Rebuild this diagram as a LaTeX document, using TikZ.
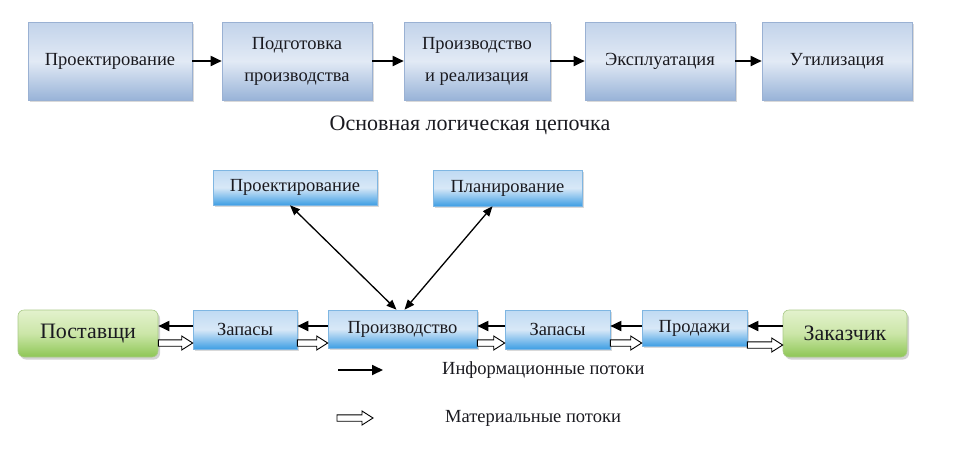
\documentclass[tikz,border=0pt]{standalone}
\usepackage{fontspec}
\setmainfont{Liberation Serif}
\usetikzlibrary{arrows.meta,shadows,calc}
\definecolor{txt}{HTML}{1A1A20}
\definecolor{topA}{HTML}{C2D3EA}
\definecolor{topB}{HTML}{E2EAF5}
\definecolor{topC}{HTML}{98B3D8}
\definecolor{topedge}{HTML}{9AB1D3}
\definecolor{bluA}{HTML}{BFDAF3}
\definecolor{bluB}{HTML}{D8E8F7}
\definecolor{bluC}{HTML}{3F9FE4}
\definecolor{bluedge}{HTML}{7FB6E2}
\definecolor{grnA}{HTML}{E3F2CD}
\definecolor{grnB}{HTML}{CBE6A8}
\definecolor{grnC}{HTML}{8EC655}
\definecolor{grnedge}{HTML}{A9CA88}
\begin{document}
\begin{tikzpicture}[x=1pt,y=-1pt,
  base/.style={inner sep=0pt, align=center, text=txt, font=\fontsize{18.5}{32}\selectfont},
  topbox/.style={base, draw=topedge, line width=0.6pt, top color=topA, bottom color=topC, middle color=topB,
    minimum height=78pt, drop shadow={shadow xshift=2pt, shadow yshift=-2pt, opacity=0.3, fill=gray}},
  blubox/.style={base, draw=bluedge, line width=0.6pt, top color=bluA, bottom color=bluC, middle color=bluB,
    drop shadow={shadow xshift=1.5pt, shadow yshift=-1.5pt, opacity=0.3, fill=gray}},
  grnbox/.style={base, font=\fontsize{22}{26}\selectfont, draw=grnedge, line width=0.6pt, rounded corners=6pt,
    top color=grnA, bottom color=grnC, middle color=grnB, minimum height=47pt,
    drop shadow={shadow xshift=2pt, shadow yshift=-2.5pt, opacity=0.35, fill=gray}},
  lbl/.style={inner sep=0pt, text=txt, font=\fontsize{18.5}{22}\selectfont},
  chain/.style={line width=1.8pt, -{Triangle[length=11pt,width=10pt]}},
  info/.style={line width=1.8pt, -{Triangle[length=11pt,width=10pt]}},
  bi/.style={line width=1.3pt, {Triangle[length=10pt,width=8pt]}-{Triangle[length=10pt,width=8pt]}},
  mat/.style={draw=black, line width=0.9pt, fill=white,
    to path={let \p1=(\tikztostart), \p2=(\tikztotarget) in
      (\x1,\y1+3.2pt) -- (\x2-11pt,\y1+3.2pt) -- (\x2-11pt,\y1+7pt) -- (\x2,\y1)
      -- (\x2-11pt,\y1-7pt) -- (\x2-11pt,\y1-3.2pt) -- (\x1,\y1-3.2pt) -- cycle}}
]
\useasboundingbox (0,0) rectangle (975,451);

% main chain
\node[topbox, minimum width=164pt] (t1) at (110,61) {Проектирование};
\node[topbox, minimum width=150pt] (t2) at (297,61) {Подготовка\\производства};
\node[topbox, minimum width=146pt] (t3) at (477,61) {Производство\\и реализация};
\node[topbox, minimum width=150pt] (t4) at (660,61) {Эксплуатация};
\node[topbox, minimum width=150pt] (t5) at (837,61) {Утилизация};
\draw[chain] (t1) -- (t2);
\draw[chain] (t2) -- (t3);
\draw[chain] (t3) -- (t4);
\draw[chain] (t4) -- (t5);
\node[inner sep=0pt, text=txt, font=\fontsize{22}{26}\selectfont] (title) at (470,125) {Основная логическая цепочка};

% planning
\node[blubox, minimum width=164pt, minimum height=35pt] (p1) at (295,187.5) {Проектирование};
\node[blubox, minimum width=149pt, minimum height=36pt] (p2) at (507.5,188) {Планирование};

% flow
\node[grnbox, minimum width=140pt] (s) at (88,333.5) {Поставщи};
\node[blubox, minimum width=104pt, minimum height=39pt] (z1) at (245,329.5) {Запасы};
\node[blubox, minimum width=149pt, minimum height=38pt] (pr) at (402.5,329) {Производство};
\node[blubox, minimum width=105pt, minimum height=39pt] (z2) at (557.5,329.5) {Запасы};
\node[blubox, minimum width=105pt, minimum height=36pt] (pd) at (694.5,328) {Продажи};
\node[grnbox, minimum width=124pt] (k) at (845,333.5) {Заказчик};

\draw[bi] ([xshift=-5pt]p1.south) -- ([xshift=-6pt]pr.north);
\draw[bi] ([xshift=-15pt]p2.south) -- ([xshift=2pt]pr.north);

\draw[info] (z1.west |- 0,326) -- (s.east |- 0,326);
\draw[info] (pr.west |- 0,326) -- (z1.east |- 0,326);
\draw[info] (z2.west |- 0,326) -- (pr.east |- 0,326);
\draw[info] (pd.west |- 0,326) -- (z2.east |- 0,326);
\draw[info] (k.west |- 0,326) -- (pd.east |- 0,326);

\draw[mat] (s.east |- 0,343) to (z1.west |- 0,343);
\draw[mat] (z1.east |- 0,343) to (pr.west |- 0,343);
\draw[mat] (pr.east |- 0,343) to (z2.west |- 0,343);
\draw[mat] (z2.east |- 0,343) to (pd.west |- 0,343);
\draw[mat] (pd.east |- 0,345) to (k.west |- 0,345);

% legend
\coordinate (li1) at (338,370);
\coordinate (li2) at (383,370);
\draw[info] (li1) -- (li2);
\node[lbl, anchor=west] (lit) at (442,370) {Информационные потоки};
\coordinate (lm1) at (337,418);
\coordinate (lm2) at (373,418);
\draw[mat] (lm1) to (lm2);
\node[lbl, anchor=west] (lmt) at (445,418) {Материальные потоки};
\end{tikzpicture}
\end{document}
